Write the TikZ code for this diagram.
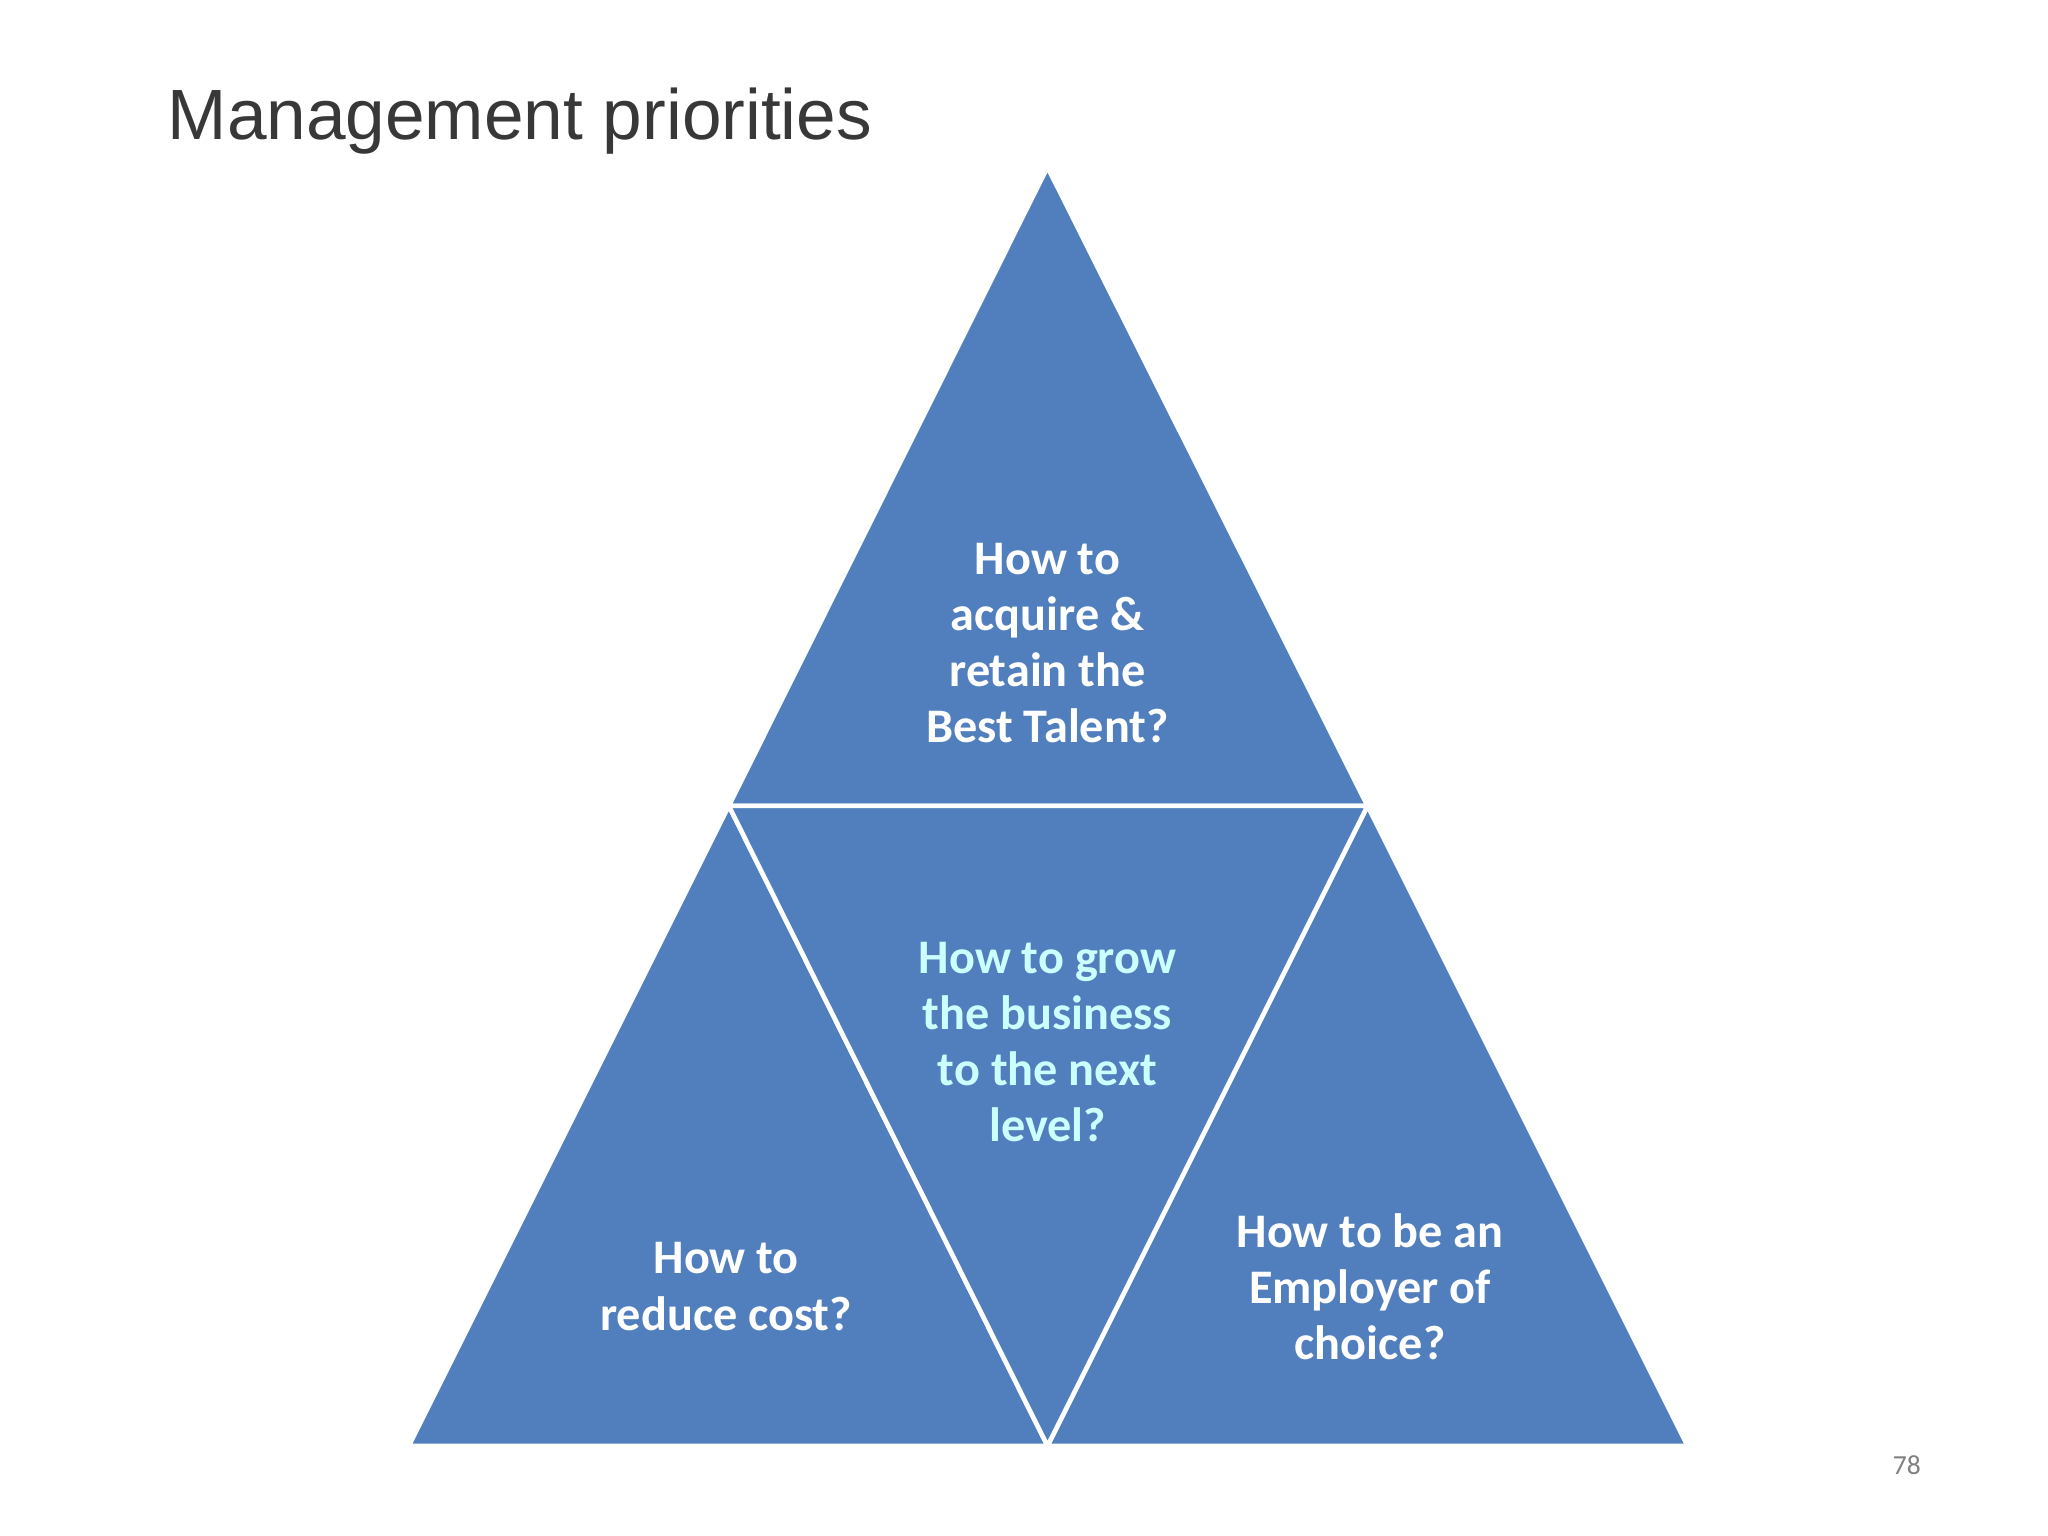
\documentclass[tikz,border=0pt]{standalone}
\usepackage{fontspec}
\setmainfont{Carlito}
\newfontfamily\titlefont{Liberation Sans}
\definecolor{tri}{HTML}{517FBD}
\definecolor{mid}{HTML}{CCFFFF}
\begin{document}
\begin{tikzpicture}[x=0.01cm,y=-0.01cm,
  trishape/.style={fill=tri,draw=white,line width=1pt,line join=miter},
  lbl/.style={text=white,font=\fontsize{10.5}{12.2}\selectfont\bfseries,align=center}]
\useasboundingbox (0,0) rectangle (1568,1176);
\coordinate (A) at (802,128);
\coordinate (L) at (313,1107);
\coordinate (R) at (1292,1107);
\coordinate (ML) at (558,617);
\coordinate (MR) at (1047,617);
\coordinate (B) at (802,1107);
\draw[trishape] (A) -- (MR) -- (ML) -- cycle;
\draw[trishape] (ML) -- (B) -- (L) -- cycle;
\draw[trishape] (MR) -- (R) -- (B) -- cycle;
\draw[trishape] (ML) -- (MR) -- (B) -- cycle;
\node[anchor=base west,font=\titlefont\fontsize{15.5}{18}\selectfont,text=black!78] (title) at (116,107) {Management priorities};
\node[lbl] (top) at (802,492) {How to\\acquire \&\\retain the\\Best Talent?};
\node[lbl,text=mid] (center) at (802,798) {How to grow\\the business\\to the next\\level?};
\node[lbl] (left) at (556,985) {How to\\reduce cost?};
\node[lbl] (right) at (1049,985) {How to be an\\Employer of\\choice?};
\node[font=\fontsize{6}{7}\selectfont,text=black!50] (pg) at (1460,1122) {78};
\end{tikzpicture}
\end{document}
